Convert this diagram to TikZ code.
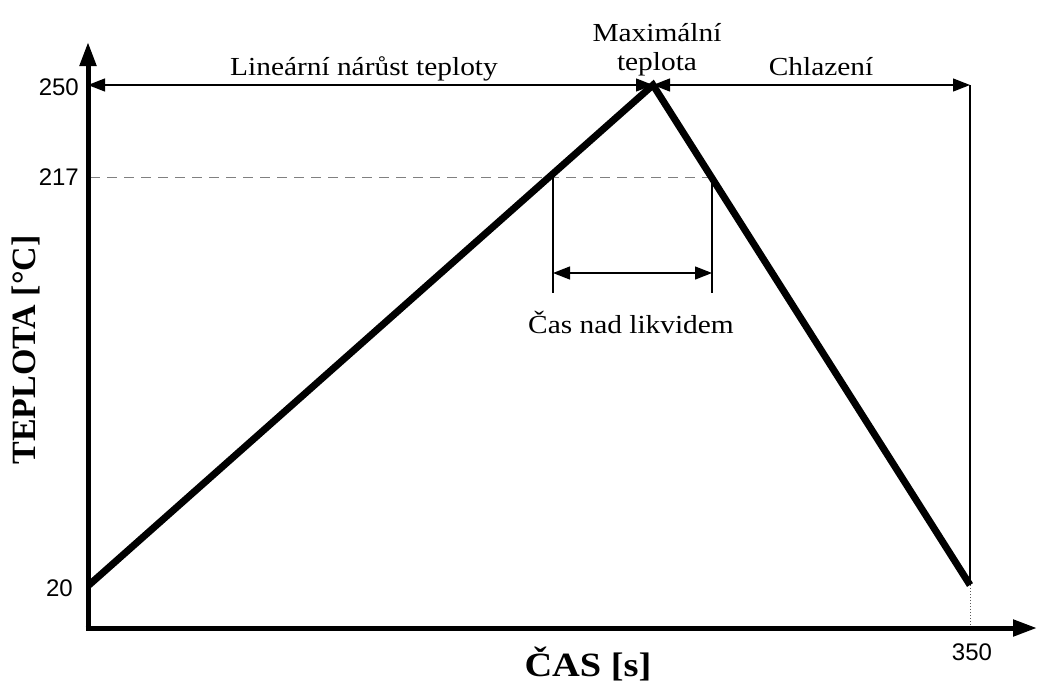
\documentclass[tikz,border=0pt]{standalone}
\usepackage{fontspec}
\setmainfont{Liberation Serif}
\newfontfamily\stserif[FakeStretch=1.13]{Liberation Serif}
\newfontfamily\numfont{Liberation Sans}
\usetikzlibrary{arrows.meta}
\begin{document}
\begin{tikzpicture}[x=1pt,y=-1pt,
  axisline/.style={line width=5pt,-{Triangle[length=24pt,width=16pt]}},
  curveline/.style={line width=7pt,line join=miter},
  thinline/.style={line width=1.3pt},
  dimarrow/.style={line width=1.3pt,{Triangle[length=17pt,width=13pt]}-{Triangle[length=17pt,width=13pt]}},
  lbl/.style={font=\stserif\fontsize{26}{30}\selectfont,inner sep=0pt},
  num/.style={font=\numfont\fontsize{24}{28}\selectfont,inner sep=0pt},
  axlbl/.style={font=\stserif\bfseries\fontsize{34}{38}\selectfont,inner sep=0pt},
  axlblrot/.style={font=\rmfamily\bfseries\fontsize{34}{38}\selectfont,inner sep=0pt,rotate=90}]
\useasboundingbox (0,0) rectangle (1040,686);
% key points
\coordinate (O) at (88,628);
\coordinate (ytop) at (88,42);
\coordinate (xend) at (1037,628);
\coordinate (start) at (89,585);
\coordinate (peak) at (653,85);
\coordinate (end) at (970,585);
\coordinate (endaxis) at (970,628);
\coordinate (lefttop) at (88,85);
\coordinate (righttop) at (970,85);
\coordinate (d0) at (90,177);
\coordinate (dA) at (553,177);
\coordinate (dB) at (712,177);
\coordinate (vA) at (553,293);
\coordinate (vB) at (712,293);
\coordinate (aA) at (553,273);
\coordinate (aB) at (712,273);
% dashed 217 line
\draw[gray,line width=1pt,dash pattern=on 10pt off 7pt] (d0) -- (dB);
% liquidus time
\draw[thinline] (dA) -- (vA);
\draw[thinline] (dB) -- (vB);
\draw[dimarrow] (aA) -- (aB);
% top dimension arrows
\draw[dimarrow] (lefttop) -- (peak);
\draw[dimarrow] (peak) -- (righttop);
\draw[thinline] (righttop) -- (end);
\draw[line width=1pt,dotted,gray!70!black] (end) -- (endaxis);
% axes
\draw[axisline] (O) -- (ytop);
\draw[axisline] ([xshift=-2.5pt]O) -- (xend);
% profile
\draw[curveline] (start) -- (peak) -- (end);
% labels
\node[lbl,anchor=base] (t1) at (364,75) {Lineární nárůst teploty};
\node[lbl,anchor=base] (t2) at (821,75) {Chlazení};
\node[lbl,anchor=base] (t3) at (657,41) {Maximální};
\node[lbl,anchor=base] (t4) at (657,70) {teplota};
\node[lbl] (t5) at (631,322) {Čas nad likvidem};
\node[num,anchor=east] (n250) at (79,87) {250};
\node[num,anchor=east] (n217) at (79,177) {217};
\node[num,anchor=east] (n20) at (73,588) {20};
\node[num] (n350) at (972,652) {350};
\node[axlbl] (xl) at (588,664) {ČAS [s]};
\node[axlblrot] (yl) at (26,350) {TEPLOTA [°C]};
\end{tikzpicture}
\end{document}
